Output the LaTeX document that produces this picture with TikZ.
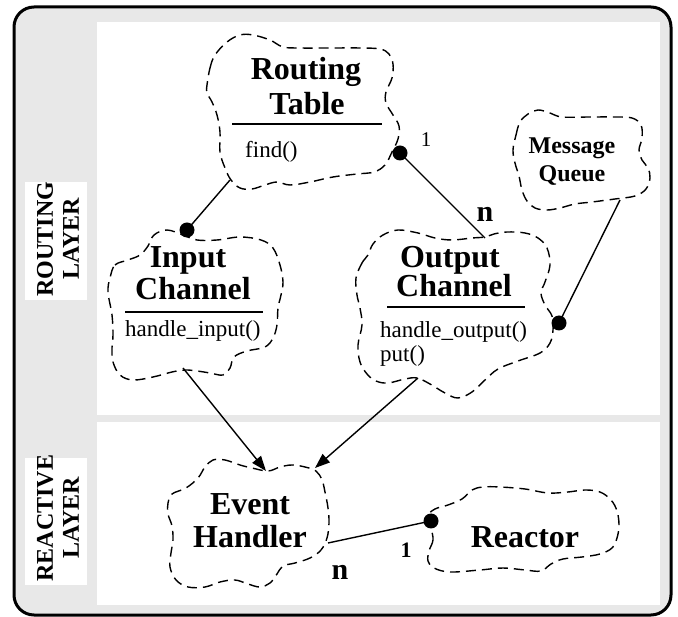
\documentclass[tikz,border=0pt]{standalone}
\usepackage{fontspec}
\setmainfont{Liberation Serif}
\usetikzlibrary{arrows.meta}
\definecolor{framegray}{RGB}{232,232,232}
\begin{document}
\begin{tikzpicture}[x=1pt,y=-1pt,
  cloudln/.style={draw, line width=1.4pt, dash pattern=on 10pt off 6pt, fill=white},
  conn/.style={line width=1.4pt},
  arr/.style={conn, -{Triangle[length=15pt,width=11pt]}},
  dotc/.style={circle, fill=black, inner sep=0pt, minimum size=15pt},
  ttl/.style={font=\fontsize{32}{35}\selectfont\bfseries, inner sep=0pt, anchor=base},
  ttlsmall/.style={font=\fontsize{24}{28}\selectfont\bfseries, inner sep=0pt, anchor=base},
  meth/.style={font=\fontsize{23}{21}\selectfont, inner sep=0pt, anchor=base west},
  layerlbl/.style={font=\fontsize{24}{26}\selectfont\bfseries, align=center, rotate=90, inner sep=0pt},
  sep/.style={line width=2pt},
  mult/.style={inner sep=0pt}
]
\useasboundingbox (0,0) rectangle (678,617);
% frame
\draw[line width=3pt, fill=framegray, rounded corners=20pt] (14,7) rectangle (671,615);
\fill[white] (97,22) rectangle (660,415);
\fill[white] (97,422) rectangle (660,605);
\fill[white] (25,182) rectangle (87,300);
\fill[white] (25,458) rectangle (87,585);
\node[layerlbl] (lr) at (58,239) {ROUTING\\LAYER};
\node[layerlbl] (lre) at (58,518) {REACTIVE\\LAYER};

% Routing Table cloud
\draw[cloudln] plot[smooth cycle, tension=0.6] coordinates {
 (207,85) (210,68) (215,55) (227,42) (240,35) (253,35) (270,40) (283,47) (300,48)
 (330,48) (360,48) (380,49) (389,54) (393,64) (392,78) (386,92) (386,103) (393,115)
 (399,126) (398,139) (392,152) (385,165) (374,172) (357,174) (333,177) (310,182)
 (290,185) (277,182) (265,185) (252,189) (240,188) (231,180) (225,168) (220,152)
 (220,132) (217,115) (212,102) (207,93)};
% Input Channel cloud
\draw[cloudln] plot[smooth cycle, tension=0.6] coordinates {
 (110,278) (115,265) (128,260) (140,255) (148,246) (154,235) (167,230) (183,235)
 (197,240) (217,240) (240,237) (261,240) (273,248) (280,265) (283,282) (281,295)
 (278,308) (277,325) (273,338) (265,347) (247,351) (234,357) (230,368) (223,375)
 (210,373) (197,371) (185,370) (172,372) (153,377) (133,380) (120,375) (113,362)
 (112,348) (113,335) (112,315) (108,292)};
% Output Channel cloud
\draw[cloudln] plot[smooth cycle, tension=0.6] coordinates {
 (356,278) (362,263) (368,255) (373,244) (383,235) (398,230) (418,233) (435,238)
 (452,240) (472,238) (485,237) (494,234) (507,232) (525,233) (538,238) (547,248)
 (550,265) (545,282) (541,293) (545,305) (552,316) (553,330) (550,343) (540,353)
 (518,361) (498,369) (485,380) (472,392) (458,398) (445,393) (430,384) (417,378)
 (405,379) (388,383) (376,381) (367,374) (360,362) (358,345) (362,325) (360,308)
 (357,295)};
% Message Queue cloud
\draw[cloudln] plot[smooth cycle, tension=0.6] coordinates {
 (513,150) (516,135) (520,122) (528,114) (538,110) (550,113) (562,117) (590,117)
 (615,117) (632,118) (641,125) (642,138) (639,150) (642,160) (648,168) (650,178)
 (646,189) (635,196) (615,199) (592,202) (575,204) (560,208) (547,210) (535,208)
 (527,201) (522,190) (519,176) (515,163)};
% Event Handler cloud
\draw[cloudln] plot[smooth cycle, tension=0.6] coordinates {
 (168,503) (172,494) (186,488) (198,478) (205,467) (213,460) (225,460) (240,465)
 (252,468) (268,471) (280,467) (292,465) (305,467) (316,471) (322,480) (325,492)
 (328,508) (329,523) (327,538) (321,550) (310,558) (295,563) (283,566) (277,574)
 (270,583) (260,587) (248,584) (235,580) (220,582) (205,587) (188,587) (176,580)
 (170,567) (171,553) (173,540) (172,526) (168,514)};
% Reactor cloud
\draw[cloudln] plot[smooth cycle, tension=0.6] coordinates {
 (431,528) (433,540) (429,551) (428,561) (434,568) (450,572) (480,570) (503,568)
 (525,570) (541,571) (551,564) (563,559) (582,557) (600,554) (612,548) (617,538)
 (619,525) (617,511) (611,500) (600,492) (585,490) (568,492) (548,493) (525,489)
 (500,487) (483,487) (472,490) (462,499) (448,505) (435,509) (428,516)};

% texts
\node[ttl] (rt1) at (306,80) {Routing};
\node[ttl] (rt2) at (307,115) {Table};
\draw[sep] (232,124) -- (382,124);
\node[meth] (rtm) at (245,158) {find()};

\node[ttl] (ic1) at (188,268) {Input};
\node[ttl] (ic2) at (193,300) {Channel};
\draw[sep] (125,312) -- (263,312);
\node[meth] (icm) at (125,337) {handle\_input()};

\node[ttl] (oc1) at (450,268) {Output};
\node[ttl] (oc2) at (454,297) {Channel};
\draw[sep] (387,307) -- (525,307);
\node[meth] (ocm1) at (380,338) {handle\_output()};
\node[meth] (ocm2) at (380,362) {put()};

\node[ttlsmall] (mq1) at (572,154) {Message};
\node[ttlsmall] (mq2) at (572,182) {Queue};

\node[ttl] (eh1) at (250,515) {Event};
\node[ttl] (eh2) at (250,548) {Handler};

\node[ttl] (re) at (525,548) {Reactor};

% connector end points
\coordinate (rtS) at (230,180);
\coordinate (icN) at (187,230);
\coordinate (rtE) at (400,153);
\coordinate (ocN) at (485,238);
\coordinate (mqS) at (620,200);
\coordinate (ocE) at (559,323);
\coordinate (icS) at (183,368);
\coordinate (ehN) at (266,471);
\coordinate (ocS) at (418,378);
\coordinate (ehNE) at (315,468);
\coordinate (ehE) at (328,543);
\coordinate (reW) at (431,521);

\draw[conn] (rtS) -- (icN);
\node[dotc] (d1) at (icN) {};
\draw[conn] (rtE) -- (ocN);
\node[dotc] (d2) at (rtE) {};
\draw[conn] (mqS) -- (ocE);
\node[dotc] (d3) at (ocE) {};
\draw[arr] (icS) -- (ehN);
\draw[arr] (ocS) -- (ehNE);
\draw[conn] (ehE) -- (reW);
\node[dotc] (d4) at (reW) {};

% multiplicities
\node[mult, font=\fontsize{21}{21}\selectfont] (m1) at (426,140) {1};
\node[mult, font=\fontsize{30}{30}\selectfont\bfseries] (m2) at (485,214) {n};
\node[mult, font=\fontsize{30}{30}\selectfont\bfseries] (m3) at (340,572) {n};
\node[mult, font=\fontsize{22}{22}\selectfont\bfseries] (m4) at (406,550) {1};
\end{tikzpicture}
\end{document}
